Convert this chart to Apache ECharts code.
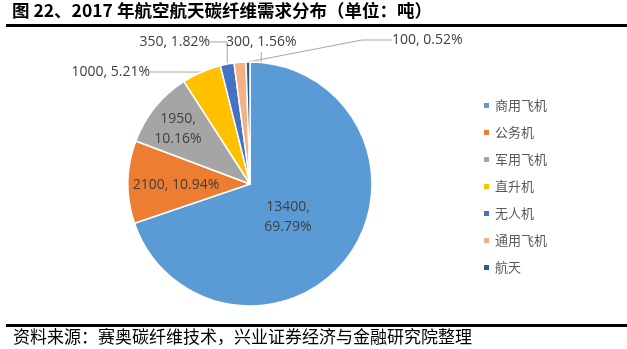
<!DOCTYPE html>
<html>
<head>
<meta charset="utf-8">
<script src="https://cdn.jsdelivr.net/npm/echarts@6/dist/echarts.min.js"></script>
<style>
  html, body { margin: 0; padding: 0; background: #fff; }
  #chart { width: 627px; height: 349px; }
</style>
</head>
<body>
<div id="chart"></div>
<script>
// 2017 aerospace carbon-fiber demand by application (tonnes)
const categories = ['商用飞机', '公务机', '军用飞机', '直升机', '无人机', '通用飞机', '航天'];
const demandTonnes = [13400, 2100, 1950, 1000, 350, 300, 100];
const sharePercent = ['69.79%', '10.94%', '10.16%', '5.21%', '1.82%', '1.56%', '0.52%'];
const sliceColors = ['#5B9BD5', '#ED7D31', '#A5A5A5', '#FFC000', '#4472C4', '#F4B183', '#255E91'];

const titleText = '图 22、2017 年航空航天碳纤维需求分布（单位：吨）';
const sourceText = '资料来源：赛奥碳纤维技术，兴业证券经济与金融研究院整理';

// which labels sit inside the slice, and whether they break onto two lines
const insideLabel = [true, true, true, false, false, false, false];
const twoLine = [true, false, true, false, false, false, false];

const CX = 250, CY = 184, R = 122;
// label anchors relative to the pie centre: [dx, dy, textAlign]
const labelAnchor = [
  [38, 33, 'center'],
  [-74, 1, 'center'],
  [-72, -55, 'center'],
  [-100, -112, 'right'],
  [-40, -142, 'right'],
  [-24, -142, 'left'],
  [142, -144, 'left']
];

const chart = echarts.init(document.getElementById('chart'), null, { renderer: 'canvas' });

const data = categories.map((name, i) => ({
  name,
  value: demandTonnes[i],
  itemStyle: { color: sliceColors[i] },
  label: {
    position: insideLabel[i] ? 'inside' : 'outside',
    formatter: twoLine[i]
      ? demandTonnes[i] + ',\n' + sharePercent[i]
      : demandTonnes[i] + ', ' + sharePercent[i]
  },
  labelLine: { show: !insideLabel[i] }
}));

chart.setOption({
  animation: false,
  backgroundColor: '#fff',
  graphic: [
    {
      type: 'text', left: 12, top: 2,
      style: { text: titleText, font: 'bold 17.5px "Noto Sans CJK SC"', fill: '#000' }
    },
    {
      type: 'rect', left: 6, top: 24,
      shape: { width: 621, height: 3 }, style: { fill: '#000' }
    },
    {
      type: 'rect', left: 6, top: 324,
      shape: { width: 621, height: 3 }, style: { fill: '#000' }
    },
    {
      type: 'text', left: 13, top: 328,
      style: { text: sourceText, font: '17px "Noto Sans CJK SC"', fill: '#000' }
    }
  ],
  legend: {
    orient: 'vertical',
    left: 477,
    top: 94,
    icon: 'rect',
    itemWidth: 7,
    itemHeight: 7,
    itemGap: 14,
    textStyle: { fontSize: 13, color: '#595959', fontFamily: '"Noto Sans CJK SC"' },
    data: categories
  },
  series: [{
    type: 'pie',
    center: [CX, CY],
    radius: [0, R],
    startAngle: 90,
    clockwise: true,
    avoidLabelOverlap: false,
    itemStyle: { borderColor: '#fff', borderWidth: 1.5 },
    label: {
      fontSize: 14,
      color: '#404040',
      fontFamily: '"Open Sans", "Noto Sans CJK SC"',
      lineHeight: 20
    },
    labelLine: {
      length: 12,
      length2: 30,
      lineStyle: { color: '#A6A6A6', width: 1 }
    },
    labelLayout: function (params) {
      const a = labelAnchor[params.dataIndex];
      return { x: CX + a[0], y: CY + a[1], align: a[2], verticalAlign: 'middle' };
    },
    emphasis: { disabled: true },
    data
  }]
});
</script>
</body>
</html>
